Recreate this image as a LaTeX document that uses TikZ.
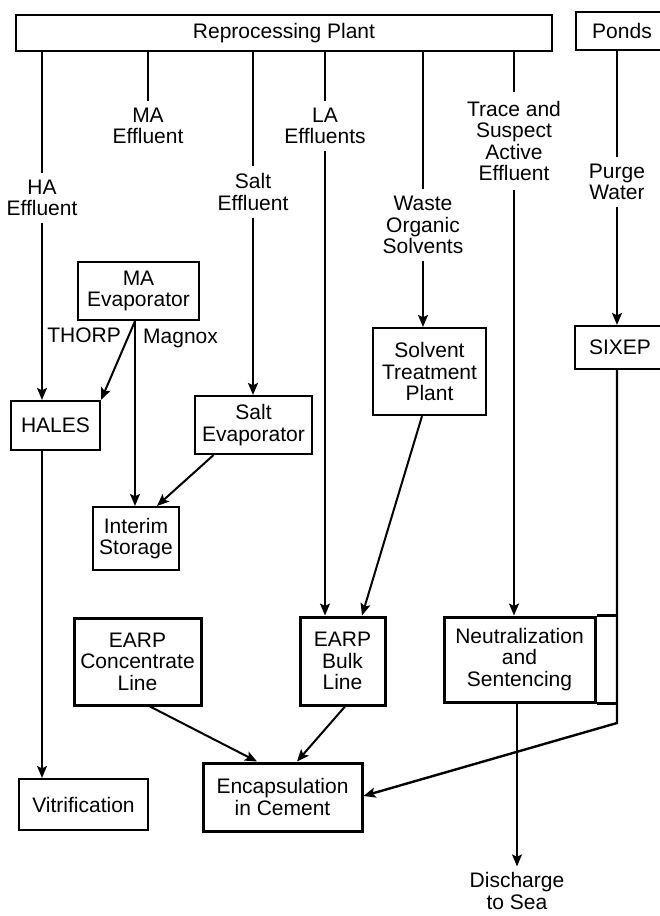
\documentclass[tikz,border=0pt]{standalone}
\usepackage{fontspec}
\setmainfont{Liberation Sans}
\usetikzlibrary{arrows.meta}

\begin{document}
\begin{tikzpicture}[x=1pt, y=-1pt,
    font=\fontsize{21}{21.5}\selectfont,
    unit/.style={draw, line width=2.2pt, align=center, inner sep=0pt},
    heavy/.style={unit, line width=3pt},
    stream/.style={align=center, inner sep=7pt},
    feed/.style={line width=2pt},
    flow/.style={feed, -{Stealth[length=12pt, width=10pt, inset=2.5pt]}},
    thinflow/.style={flow, line width=1.4pt}]

  \useasboundingbox (0,0) rectangle (660,916);

  \node[unit, minimum width=536pt, minimum height=36pt] (plant) at (284,33) {Reprocessing Plant};
  \node[unit, minimum width=92pt, minimum height=38pt] (ponds) at (622,31) {Ponds};

  \node[stream] (halbl) at (42,198) {HA\\Effluent};
  \node[stream] (malbl) at (148,126) {MA\\Effluent};
  \node[stream] (saltlbl) at (253,192) {Salt\\Effluent};
  \node[stream] (lalbl) at (325,126) {LA\\Effluents};
  \node[stream] (wastelbl) at (423,225) {Waste\\Organic\\Solvents};
  \node[stream, inner sep=9pt] (tracelbl) at (514,141) {Trace and\\Suspect\\Active\\Effluent};
  \node[stream] (purgelbl) at (617,182) {Purge\\Water};

  \node[unit, minimum width=121pt, minimum height=58pt] (maevap) at (138.5,291) {MA\\Evaporator};
  \node[unit, minimum width=89pt, minimum height=49pt] (hales) at (55.5,425.5) {HALES};
  \node[unit, minimum width=117pt, minimum height=58pt] (saltevap) at (253.5,425) {Salt\\Evaporator};
  \node[unit, minimum width=86pt, minimum height=63pt] (interim) at (136,538.5) {Interim\\Storage};
  \node[unit, minimum width=113pt, minimum height=87pt] (stp) at (429.5,371.5) {Solvent\\Treatment\\Plant};
  \node[unit, minimum width=90pt, minimum height=43pt] (sixep) at (620,347.5) {SIXEP};

  \node[heavy, minimum width=127pt, minimum height=87pt] (earpconc) at (137.5,661.5) {EARP\\Concentrate\\Line};
  \node[heavy, minimum width=85pt, minimum height=88pt] (earpbulk) at (342.5,661) {EARP\\Bulk\\Line};
  \node[heavy, minimum width=151pt, minimum height=85pt] (neut) at (519.5,659.5) {Neutralization\\and\\Sentencing};
  \node[unit, minimum width=129pt, minimum height=51pt] (vitr) at (83.5,804.5) {Vitrification};
  \node[heavy, minimum width=159pt, minimum height=68pt] (encap) at (282.5,797) {Encapsulation\\in Cement};
  \node[stream, inner sep=6pt] (dislbl) at (517,891) {Discharge\\to Sea};

  \node[anchor=east, inner sep=3pt] (thorp) at (124,335) {THORP};
  \node[anchor=west, inner sep=3pt] (magnox) at (140,338) {Magnox};

  \coordinate (split) at ([xshift=-3.5pt]maevap.south);
  \coordinate (bend) at (617,723);

  \draw[feed] (plant.south -| halbl.north) -- (halbl.north);
  \draw[flow] (halbl.south) -- (halbl.south |- hales.north);
  \draw[thinflow] (hales.south -| halbl) -- (vitr.north -| halbl);
  \draw[feed] (plant.south -| malbl.north) -- (malbl.north);
  \draw[feed] (plant.south -| saltlbl.north) -- (saltlbl.north);
  \draw[flow] (saltlbl.south) -- (saltlbl.south |- saltevap.north);
  \draw[feed] (plant.south -| lalbl.north) -- (lalbl.north);
  \draw[flow] (lalbl.south) -- (lalbl.south |- earpbulk.north);
  \draw[feed] (plant.south -| wastelbl.north) -- (wastelbl.north);
  \draw[flow] (wastelbl.south) -- (wastelbl.south |- stp.north);
  \draw[feed] (plant.south -| tracelbl.north) -- (tracelbl.north);
  \draw[flow] (tracelbl.south) -- (tracelbl.south |- neut.north);
  \draw[feed] (ponds.south -| purgelbl.north) -- (purgelbl.north);
  \draw[flow] (purgelbl.south) -- (purgelbl.south |- sixep.north);

  \draw[flow] (split) -- (hales.north east);
  \draw[flow] (split) -- (split |- interim.north);
  \draw[flow] ([xshift=-40pt]saltevap.south) -- ([xshift=21pt]interim.north);
  \draw[flow] ([xshift=-7.5pt]stp.south) -- ([xshift=19.5pt]earpbulk.north);

  \draw[flow] ([xshift=12.5pt]earpconc.south) -- ([xshift=-25.5pt]encap.north);
  \draw[flow] ([xshift=2.5pt]earpbulk.south) -- ([xshift=14.5pt]encap.north);
  \draw[line width=3pt] (neut.north east) -- (neut.north east -| bend);
  \draw[line width=3pt] (neut.south east) -- (neut.south east -| bend);
  \draw[flow, line width=2.4pt] (sixep.south -| bend) -- (bend) -- ([yshift=1pt]encap.east);
  \draw[thinflow] (neut.south -| dislbl) -- (dislbl.north);

\end{tikzpicture}
\end{document}
